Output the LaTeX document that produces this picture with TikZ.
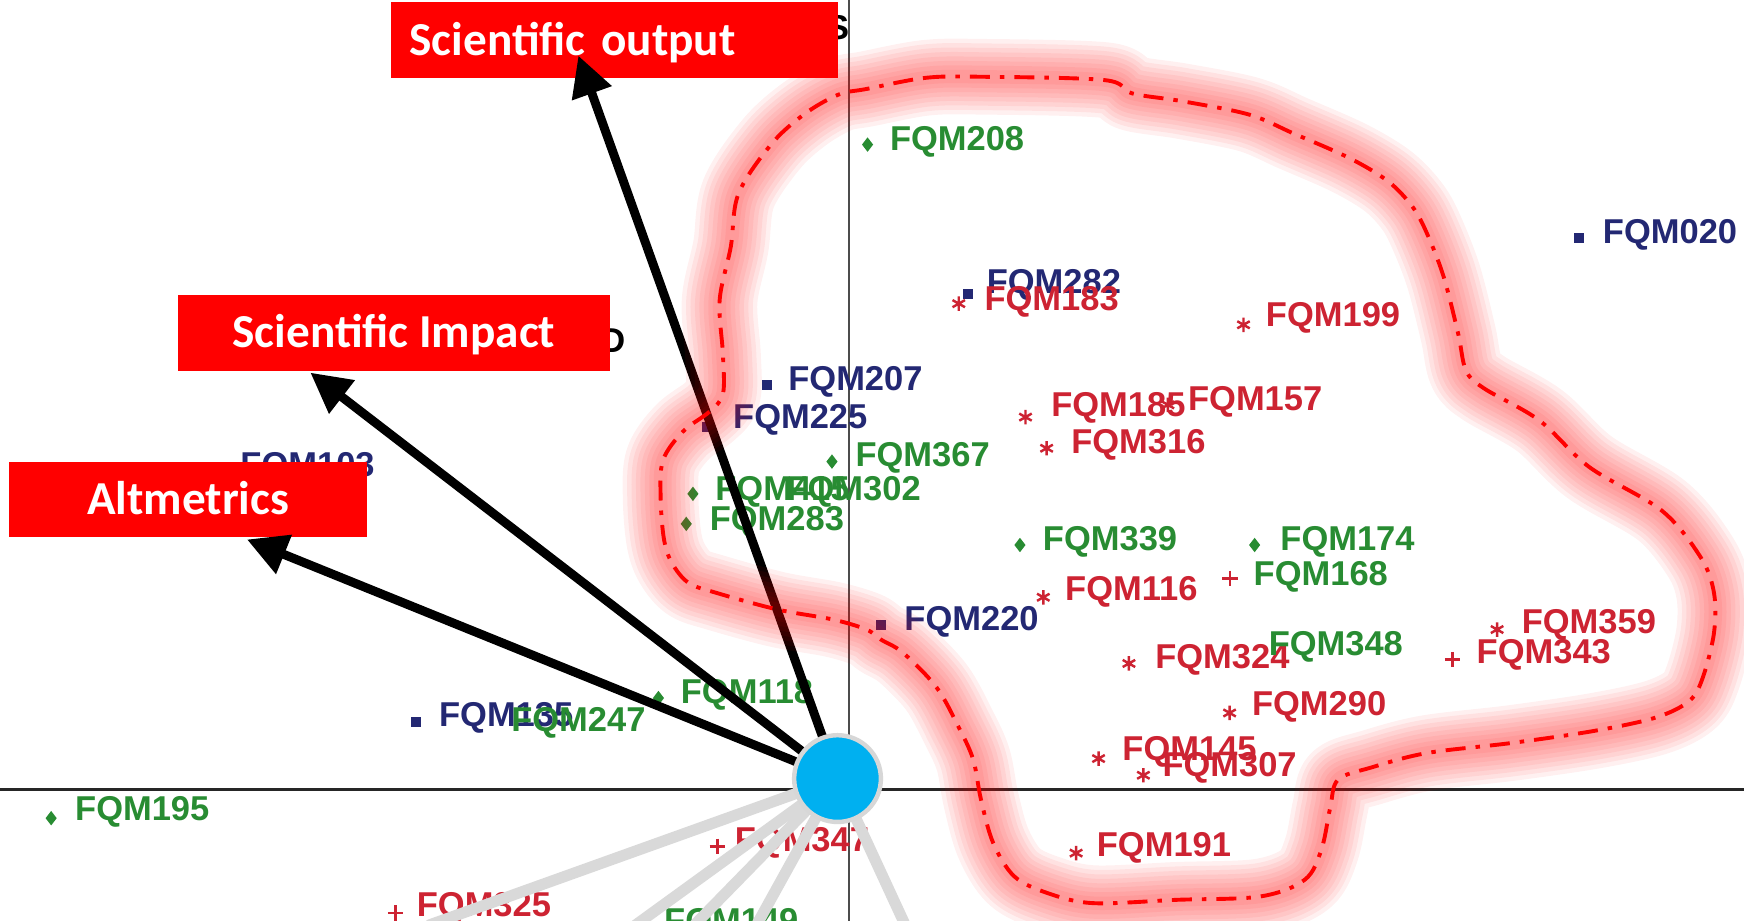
\documentclass[tikz,border=0pt]{standalone}
\usepackage{fontspec}
\newfontfamily\labfont{Liberation Sans}
\newfontfamily\boxfont{Carlito}
\usetikzlibrary{arrows.meta}
\definecolor{ggreen}{RGB}{40,140,50}
\definecolor{bblue}{RGB}{35,40,115}
\definecolor{rred}{RGB}{205,35,50}
\definecolor{cyanc}{RGB}{0,176,240}
\definecolor{rimgray}{RGB}{215,215,215}
\definecolor{spokegray}{RGB}{217,217,217}
\tikzset{
 lab/.style={anchor=west, inner sep=0pt, font=\labfont\bfseries\fontsize{31}{31}\selectfont},
 glab/.style={lab,text=ggreen},
 blab/.style={lab,text=bblue},
 rlab/.style={lab,text=rred},
 gdia/.pic={\fill[ggreen] (0,-6.5)--(5,0)--(0,6.5)--(-5,0)--cycle;},
 bsq/.pic={\fill[bblue] (-4.5,-4.5) rectangle (4.5,4.5);},
 rast/.pic={\draw[rred,line width=2.2pt] (0,-6.5)--(0,6.5) (-5.6,-3.2)--(5.6,3.2) (-5.6,3.2)--(5.6,-3.2);},
 rplus/.pic={\draw[rred,line width=2.2pt] (-7,0)--(7,0) (0,-7)--(0,7);},
 redbox/.style={fill=red, text=white, inner sep=0pt, minimum height=68pt, text height=27pt, text depth=0pt, font=\boxfont\bfseries\fontsize{42.5}{42.5}\selectfont},
 axisline/.style={line width=2pt, black!70},
 spoke/.style={spokegray, line width=10pt},
 metric/.style={line width=8pt, black, -{Triangle[length=36pt,width=36pt]}},
 glow/.style={red, line cap=round, line join=round, opacity=0.06},
 hull/.style={red, line width=3.5pt, dash pattern=on 18pt off 9pt on 4pt off 9pt},
}
\def\hullpath{plot[smooth cycle, tension=0.55] coordinates {
(779,80) (832,70) (882,69) (993,72) (1018,84) (1063,91) (1123,103) (1163,120) (1213,142) (1248,163) (1270,186) (1283,210) (1298,249) (1311,300) (1318,333) (1334,349) (1384,378) (1429,420) (1494,459) (1529,501) (1541,533) (1541,569) (1531,609) (1519,630) (1489,645) (1434,657) (1359,668) (1283,677) (1233,690) (1203,701) (1196,726) (1188,764) (1173,791) (1133,806) (1058,809) (983,812) (942,803) (912,788) (893,758) (882,719) (875,683) (862,654) (842,618) (812,587) (792,575) (779,566) (749,557) (699,548) (644,533) (619,524) (604,506) (597,485) (594,449) (596,414) (614,388) (638,370) (650,354) (650,319) (647,270) (657,222) (664,174) (694,129) (724,102) (754,85)}}
\begin{document}
\begin{tikzpicture}[x=1pt,y=-1pt]
\useasboundingbox (0,0) rectangle (1568,828);
\fill[white] (0,0) rectangle (1568,828);
\clip (0,0) rectangle (1568,828);
% axes
\draw[axisline] (763,0) -- (763,828);
\draw[axisline, line width=2.5pt, black!85] (0,710) -- (1568,710);
% hidden axis letters
\node[lab, anchor=center, text=black] (axS) at (753,25) {S};
\node[lab, anchor=center, text=black] (axD) at (551,306) {D};
% blue points
\pic at (1420,214) {bsq}; \node[blab] (l020) at (1441,211) {FQM020};
\pic at (870,264) {bsq}; \node[blab] (l282) at (887,256) {FQM282};
\pic at (689.5,346) {bsq}; \node[blab] (l207) at (708.6,343) {FQM207};
\pic at (635.5,384) {bsq}; \node[blab] (l225) at (659,377.6) {FQM225};
\pic at (792,562) {bsq}; \node[blab] (l220) at (813,559) {FQM220};
\pic at (373.6,649) {bsq}; \node[blab] (l135) at (394.6,645.6) {FQM135};
\node[blab] (l103) at (216,421) {FQM103};
% green points
\pic at (780,130) {gdia}; \node[glab] (l208) at (800,127.5) {FQM208};
\pic at (748,415) {gdia}; \node[glab] (l367) at (769,412) {FQM367};
\pic at (623,444) {gdia}; \node[glab] (l415) at (643,442) {FQM415};
\node[glab] (l302) at (707,442) {FQM302};
\pic at (617,471) {gdia}; \node[glab] (l283) at (638,469) {FQM283};
\pic at (917,490) {gdia}; \node[glab] (l339) at (937.5,487) {FQM339};
\pic at (1128,490) {gdia}; \node[glab] (l174) at (1151,487) {FQM174};
\pic at (1106,520) {rplus}; \node[glab] (l168) at (1127,518.5) {FQM168};
\pic at (592,627.6) {gdia}; \node[glab] (l118) at (612,625) {FQM118};
\node[glab] (l247) at (459.5,650) {FQM247};
\pic at (46,735.6) {gdia}; \node[glab] (l195) at (67.4,729.8) {FQM195};
\node[glab] (l149) at (597,831) {FQM149};
% red points
\pic at (862,273) {rast}; \node[rlab] (l183) at (885,271.5) {FQM183};
\pic at (1118,292) {rast}; \node[rlab] (l199) at (1138,286) {FQM199};
\pic at (922,375) {rast}; \node[rlab] (l185) at (945,367) {FQM185};
\pic at (1050,364) {rast}; \node[rlab] (l157) at (1068,361) {FQM157};
\pic at (941,403) {rast}; \node[rlab] (l316) at (963,400) {FQM316};
\pic at (938,537) {rast}; \node[rlab] (l116) at (957.5,532) {FQM116};
\pic at (1015,596.5) {rast}; \node[rlab] (l324) at (1038.5,593) {FQM324};
\node[glab] (l348) at (1140.5,581.5) {FQM348};
\pic at (1346,566) {rast}; \node[rlab] (l359) at (1368,562) {FQM359};
\pic at (1306,593) {rplus}; \node[rlab] (l343) at (1327.5,589) {FQM343};
\pic at (1105.5,641) {rast}; \node[rlab] (l290) at (1125.5,635.5) {FQM290};
\pic at (987.7,682) {rast}; \node[rlab] (l145) at (1009,676) {FQM145};
\pic at (1028,697) {rast}; \node[rlab] (l307) at (1045,690.5) {FQM307};
\pic at (967.5,767) {rast}; \node[rlab] (l191) at (986,762.5) {FQM191};
\pic at (355.7,821) {rplus}; \node[rlab] (l325) at (374.6,816) {FQM325};
\pic at (645,761) {rplus}; \node[rlab] (l347) at (660.5,758) {FQM347};
% red boxes
\node[redbox, anchor=north west, minimum width=402pt, text width=368pt, align=left, inner xsep=17pt] (out) at (351,2) {Scientific output};
\node[redbox, anchor=north west, minimum width=388pt] (imp) at (160,265) {Scientific Impact};
\node[redbox, anchor=north west, minimum width=322pt] (alt) at (8,415) {Altmetrics};
% hub
\coordinate (hubc) at (753,700);
\coordinate (s1) at (385,832);
\coordinate (s2) at (571,832);
\coordinate (s3) at (624,832);
\coordinate (s4) at (680,832);
\coordinate (s5) at (814,832);
\foreach \s in {s1,s2,s3,s4,s5} \draw[spoke] (hubc) -- (\s);
\coordinate (tOut) at (520,50);
\coordinate (tImp) at (279,335);
\coordinate (tAlt) at (222,485);
\draw[metric] (hubc) -- (tOut);
\draw[metric] (hubc) -- (tImp);
\draw[metric] (hubc) -- (tAlt);
% glow and hull
\foreach \w in {68,60,52,44,36,28,20,12} \draw[glow, line width=\w pt] \hullpath;
\draw[hull] \hullpath;
\node[circle, fill=cyanc, draw=rimgray, line width=4pt, minimum size=78pt, inner sep=0pt] (hub) at (hubc) {};
\end{tikzpicture}
\end{document}
